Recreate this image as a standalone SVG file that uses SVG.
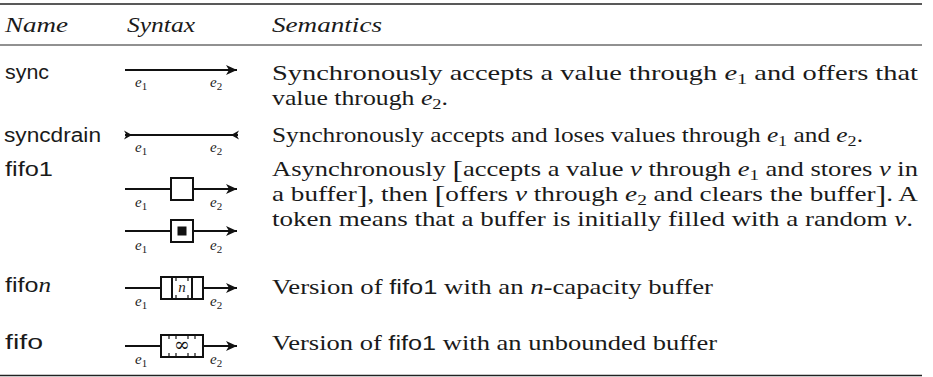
<svg xmlns="http://www.w3.org/2000/svg" width="933" height="377" viewBox="0 0 933 377">
<style>
 .t{font-family:"Liberation Serif","Times New Roman",serif;font-size:21px;fill:#1a1a1a}
 .it{font-style:italic}
 .sf{font-family:"Liberation Sans",Arial,sans-serif;font-size:20px;fill:#1a1a1a}
 .lb{font-family:"Liberation Serif","Times New Roman",serif;font-style:italic;font-size:15px;fill:#222}
 .sub{font-style:normal;font-size:11px}
 .sub2{font-style:normal;font-size:15px}
 .ln{stroke:#111;stroke-width:2;fill:none}
 .box{stroke:#111;stroke-width:2;fill:#fff}
 .tick{stroke:#111;stroke-width:1.2}
</style>
<defs>
 <marker id="ah" markerUnits="userSpaceOnUse" markerWidth="14" markerHeight="12" refX="12" refY="6" orient="auto" viewBox="0 0 14 12">
  <path d="M12,6 L1,1 L4,6 L1,11 Z" fill="#111"/>
 </marker>
</defs>

<g id="table-rules">
 <line x1="0" y1="4" x2="922" y2="4" stroke="#222" stroke-width="1.6"/>
 <line x1="0" y1="45" x2="922" y2="45" stroke="#222" stroke-width="1"/>
 <line x1="0" y1="375.5" x2="922" y2="375.5" stroke="#222" stroke-width="1.6"/>
</g>

<g id="header">
 <text class="t it" x="5" y="32" textLength="63" lengthAdjust="spacingAndGlyphs">Name</text>
 <text class="t it" x="127" y="32" textLength="68" lengthAdjust="spacingAndGlyphs">Syntax</text>
 <text class="t it" x="272" y="32" textLength="110" lengthAdjust="spacingAndGlyphs">Semantics</text>
</g>

<g id="row-sync">
 <text class="sf" x="5" y="79" textLength="44" lengthAdjust="spacingAndGlyphs">sync</text>
 <text class="t" x="272" y="80" textLength="646" lengthAdjust="spacingAndGlyphs">Synchronously  accepts  a  value  through  <tspan class="it">e</tspan><tspan class="sub2" dy="4">1</tspan><tspan dy="-4">  and  offers  that</tspan></text>
 <text class="t" x="272" y="105" textLength="176" lengthAdjust="spacingAndGlyphs">value through <tspan class="it">e</tspan><tspan class="sub2" dy="4">2</tspan><tspan dy="-4">.</tspan></text>
</g>

<g id="row-syncdrain">
 <text class="sf" x="4" y="142" textLength="97" lengthAdjust="spacingAndGlyphs">syncdrain</text>
 <text class="t" x="272" y="142" textLength="591" lengthAdjust="spacingAndGlyphs">Synchronously accepts and loses values through <tspan class="it">e</tspan><tspan class="sub2" dy="4">1</tspan><tspan dy="-4"> and </tspan><tspan class="it">e</tspan><tspan class="sub2" dy="4">2</tspan><tspan dy="-4">.</tspan></text>
</g>

<g id="row-fifo1">
 <text class="sf" x="5" y="176" textLength="48" lengthAdjust="spacingAndGlyphs">fifo1</text>
 <text class="t" x="272" y="176" textLength="646" lengthAdjust="spacingAndGlyphs">Asynchronously <tspan font-size="25" dy="2">[</tspan><tspan dy="-2">accepts a value </tspan><tspan class="it">v</tspan> through <tspan class="it">e</tspan><tspan class="sub2" dy="4">1</tspan><tspan dy="-4"> and stores </tspan><tspan class="it">v</tspan> in</text>
 <text class="t" x="272" y="201" textLength="646" lengthAdjust="spacingAndGlyphs">a buffer<tspan font-size="25" dy="2">]</tspan><tspan dy="-2">, then </tspan><tspan font-size="25" dy="2">[</tspan><tspan dy="-2">offers </tspan><tspan class="it">v</tspan> through <tspan class="it">e</tspan><tspan class="sub2" dy="4">2</tspan><tspan dy="-4"> and clears the buffer</tspan><tspan font-size="25" dy="2">]</tspan><tspan dy="-2">. A</tspan></text>
 <text class="t" x="272" y="226" textLength="641" lengthAdjust="spacingAndGlyphs">token means that a buffer is initially filled with a random <tspan class="it">v</tspan>.</text>
</g>

<g id="row-fifon">
 <text class="sf" x="5" y="292" textLength="46" lengthAdjust="spacingAndGlyphs">fifo<tspan font-family="Liberation Serif, serif" font-style="italic">n</tspan></text>
 <text class="t" x="272" y="294" textLength="441" lengthAdjust="spacingAndGlyphs">Version of <tspan class="sf" font-size="20">fifo1</tspan> with an <tspan class="it">n</tspan>-capacity buffer</text>
</g>

<g id="row-fifo">
 <text class="sf" x="5" y="349" textLength="38" lengthAdjust="spacingAndGlyphs">fifo</text>
 <text class="t" x="272" y="350" textLength="445" lengthAdjust="spacingAndGlyphs">Version of <tspan class="sf" font-size="20">fifo1</tspan> with an unbounded buffer</text>
</g>

<g id="connectors">
 <line class="ln" x1="125" y1="70" x2="237" y2="70" marker-end="url(#ah)"/>
 <line class="ln" x1="125" y1="135" x2="238" y2="135"/>
 <path d="M132,135 L124,130.5 L126.5,135 L124,139.5 Z" fill="#111"/>
 <path d="M231,135 L239,130.5 L236.5,135 L239,139.5 Z" fill="#111"/>
 <line class="ln" x1="125" y1="189" x2="237" y2="189" marker-end="url(#ah)"/>
 <rect class="box" x="171" y="178" width="22" height="22"/>
 <line class="ln" x1="125" y1="231" x2="237" y2="231" marker-end="url(#ah)"/>
 <rect class="box" x="171" y="220" width="22" height="22"/>
 <rect x="177.5" y="226.5" width="9" height="9" fill="#111"/>
 <line class="ln" x1="125" y1="288" x2="237" y2="288" marker-end="url(#ah)"/>
 <rect class="box" x="161" y="277" width="42" height="22"/>
 <line class="ln" x1="172" y1="277" x2="172" y2="299"/>
 <line class="ln" x1="192" y1="277" x2="192" y2="299"/>
 <line class="tick" x1="176" y1="278" x2="176" y2="281"/>
 <line class="tick" x1="188" y1="278" x2="188" y2="281"/>
 <line class="tick" x1="176" y1="295" x2="176" y2="298"/>
 <line class="tick" x1="188" y1="295" x2="188" y2="298"/>
 <line class="ln" x1="125" y1="346" x2="237" y2="346" marker-end="url(#ah)"/>
 <rect class="box" x="161" y="335" width="42" height="22"/>
 <line class="tick" x1="169" y1="336" x2="169" y2="339"/>
 <line class="tick" x1="176" y1="336" x2="176" y2="339"/>
 <line class="tick" x1="188" y1="336" x2="188" y2="339"/>
 <line class="tick" x1="195" y1="336" x2="195" y2="339"/>
 <line class="tick" x1="169" y1="353" x2="169" y2="356"/>
 <line class="tick" x1="176" y1="353" x2="176" y2="356"/>
 <line class="tick" x1="188" y1="353" x2="188" y2="356"/>
 <line class="tick" x1="195" y1="353" x2="195" y2="356"/>
</g>

<g id="labels">
 <text class="lb" x="182" y="292" text-anchor="middle">n</text>
 <text x="182" y="351" text-anchor="middle" font-family="DejaVu Serif, serif" font-size="19" fill="#111">∞</text>
 <text class="lb" x="135" y="87">e<tspan class="sub" dy="3">1</tspan></text>
 <text class="lb" x="210" y="87">e<tspan class="sub" dy="3">2</tspan></text>
 <text class="lb" x="135" y="152">e<tspan class="sub" dy="3">1</tspan></text>
 <text class="lb" x="210" y="152">e<tspan class="sub" dy="3">2</tspan></text>
 <text class="lb" x="135" y="207">e<tspan class="sub" dy="3">1</tspan></text>
 <text class="lb" x="210" y="207">e<tspan class="sub" dy="3">2</tspan></text>
 <text class="lb" x="135" y="250">e<tspan class="sub" dy="3">1</tspan></text>
 <text class="lb" x="210" y="250">e<tspan class="sub" dy="3">2</tspan></text>
 <text class="lb" x="135" y="306">e<tspan class="sub" dy="3">1</tspan></text>
 <text class="lb" x="210" y="306">e<tspan class="sub" dy="3">2</tspan></text>
 <text class="lb" x="135" y="364">e<tspan class="sub" dy="3">1</tspan></text>
 <text class="lb" x="210" y="364">e<tspan class="sub" dy="3">2</tspan></text>
</g>
</svg>
